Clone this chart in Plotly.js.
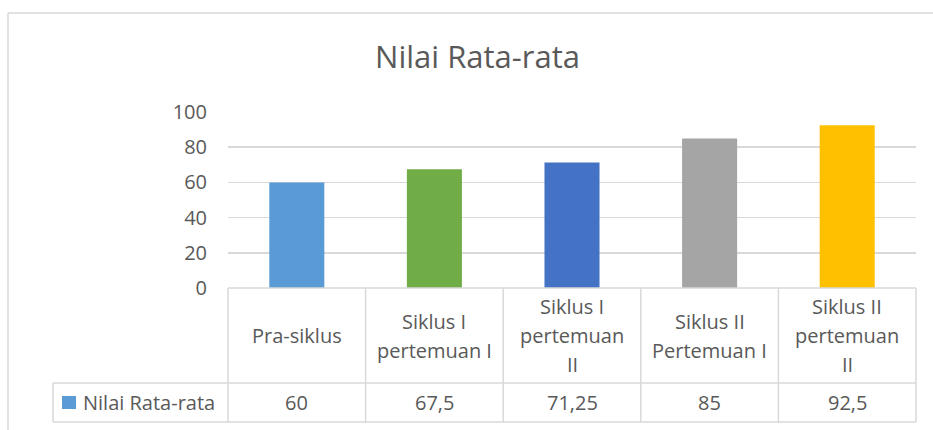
<!DOCTYPE html>
<html>
<head>
<meta charset="utf-8">
<script src="https://cdn.plot.ly/plotly-3.0.1.min.js"></script>
<style>
  html, body { margin: 0; padding: 0; background: #ffffff; }
  #chart { width: 933px; height: 430px; }
</style>
</head>
<body>
<div id="chart"></div>
<script>
// ---- data ----
const categories = ["Pra-siklus", "Siklus I pertemuan I", "Siklus I pertemuan II", "Siklus II Pertemuan I", "Siklus II pertemuan II"];
const tableLabels = ["Pra-siklus", "Siklus I<br>pertemuan I", "Siklus I<br>pertemuan<br>II", "Siklus II<br>Pertemuan I", "Siklus II<br>pertemuan<br>II"];
const values = [60, 67.5, 71.25, 85, 92.5];
const barColors = ["#5B9BD5", "#70AD47", "#4472C4", "#A5A5A5", "#FFC000"];
const seriesName = "Nilai Rata-rata";
const chartTitle = "Nilai Rata-rata";
const yTicks = [0, 20, 40, 60, 80, 100];

// ---- layout helpers (pixel -> paper) ----
const W = 933, H = 430;
const PL = 228, PR = 916, PT = 112, PB = 288;
const PW = PR - PL, PH = PB - PT;
const px = x => (x - PL) / PW;
const py = y => (PB - y) / PH;

const FONT = "Open Sans, Noto Sans, sans-serif";
const TXT = "#595959";
const LINE = "#d9d9d9";

const rowMidY = 383, rowBotY = 422, legLeftX = 53;

const shapes = [];
const annotations = [];

// outer chart border (top + left visible)
shapes.push({type: "line", xref: "paper", yref: "paper", x0: px(8), x1: px(W + 5), y0: py(13), y1: py(13), line: {color: LINE, width: 1.5}});
shapes.push({type: "line", xref: "paper", yref: "paper", x0: px(8), x1: px(8), y0: py(13), y1: py(H + 5), line: {color: LINE, width: 1.5}});

// data table horizontal lines
shapes.push({type: "line", xref: "paper", yref: "paper", x0: 0, x1: 1, y0: 0, y1: 0, line: {color: LINE, width: 1.5}});
shapes.push({type: "line", xref: "paper", yref: "paper", x0: px(legLeftX), x1: 1, y0: py(rowMidY), y1: py(rowMidY), line: {color: LINE, width: 1.5}});
shapes.push({type: "line", xref: "paper", yref: "paper", x0: px(legLeftX), x1: 1, y0: py(rowBotY), y1: py(rowBotY), line: {color: LINE, width: 1.5}});
shapes.push({type: "line", xref: "paper", yref: "paper", x0: px(legLeftX), x1: px(legLeftX), y0: py(rowMidY), y1: py(rowBotY), line: {color: LINE, width: 1.5}});
// vertical separators
for (let i = 0; i <= categories.length; i++) {
  const xf = i / categories.length;
  shapes.push({type: "line", xref: "paper", yref: "paper", x0: xf, x1: xf, y0: 0, y1: py(rowBotY), line: {color: LINE, width: 1.5}});
}
// legend key
shapes.push({type: "rect", xref: "paper", yref: "paper", x0: px(62), x1: px(76), y0: py(396), y1: py(409), fillcolor: barColors[0], line: {width: 0}});
annotations.push({xref: "paper", yref: "paper", x: px(81), y: py(rowMidY + (rowBotY - rowMidY) / 2), xanchor: "left", yanchor: "middle", showarrow: false, text: seriesName, font: {family: FONT, size: 20, color: TXT}});

// category labels (one annotation per line) and values
const labelRowMid = (PB + rowMidY) / 2;
const lineStep = 29;
categories.forEach((c, i) => {
  const lines = tableLabels[i].split("<br>");
  const n = lines.length;
  lines.forEach((ln, k) => {
    const yPix = labelRowMid + (k - (n - 1) / 2) * lineStep;
    annotations.push({xref: "x", yref: "paper", x: c, y: py(yPix), xanchor: "center", yanchor: "middle", showarrow: false, text: ln, font: {family: FONT, size: 20, color: TXT}});
  });
  annotations.push({xref: "x", yref: "paper", x: c, y: py((rowMidY + rowBotY) / 2), xanchor: "center", yanchor: "middle", showarrow: false, text: String(values[i]).replace(".", ","), font: {family: FONT, size: 20, color: TXT}});
});

const trace = {
  type: "bar",
  x: categories,
  y: values,
  name: seriesName,
  width: 0.4,
  marker: {color: barColors, line: {width: 0}},
  hoverinfo: "x+y"
};

const layout = {
  width: W, height: H,
  margin: {l: PL, r: W - PR, t: PT, b: H - PB, pad: 0},
  paper_bgcolor: "#ffffff",
  plot_bgcolor: "#ffffff",
  showlegend: false,
  title: {
    text: chartTitle,
    font: {family: FONT, size: 31, color: TXT},
    xref: "container", yref: "container",
    x: 477.5 / W, xanchor: "center",
    y: 1 - 57 / H, yanchor: "middle"
  },
  xaxis: {
    type: "category",
    showticklabels: false,
    showgrid: false,
    zeroline: false,
    showline: false,
    ticks: "",
    fixedrange: true
  },
  yaxis: {
    range: [0, 100],
    tickvals: yTicks,
    ticktext: yTicks.map(String),
    showgrid: true,
    gridcolor: LINE,
    gridwidth: 1.5,
    zeroline: false,
    showline: false,
    ticks: "",
    ticklabelstandoff: 20,
    tickfont: {family: FONT, size: 20, color: TXT},
    fixedrange: true
  },
  shapes: shapes,
  annotations: annotations
};

Plotly.newPlot("chart", [trace], layout, {displayModeBar: false, staticPlot: true});
</script>
</body>
</html>
